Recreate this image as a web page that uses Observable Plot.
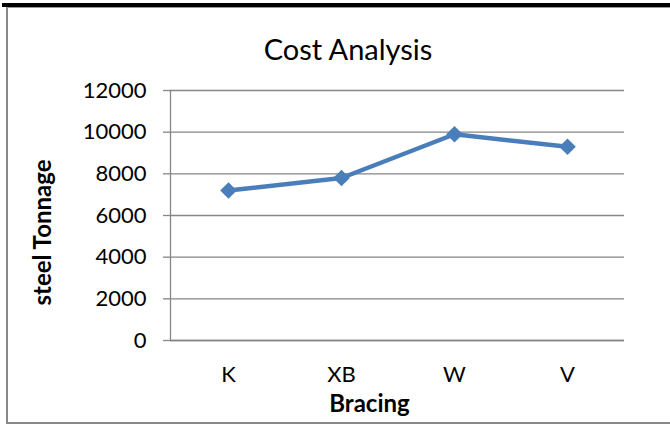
<!DOCTYPE html>
<html><head><meta charset="utf-8">
<script src="https://cdn.jsdelivr.net/npm/d3@7"></script>
<script src="https://cdn.jsdelivr.net/npm/@observablehq/plot@0.6"></script>
<style>
body{margin:0;background:#fff;}
#chart{position:relative;width:670px;height:425px;overflow:hidden;font-family:Lato,sans-serif;background:#fff;}
.topbar{position:absolute;left:2px;top:3px;width:668px;height:4px;background:#000;}
.frame{position:absolute;left:6px;top:7px;width:670px;height:414px;border-left:2px solid #888;border-bottom:2px solid #888;border-top:1px solid #999;}
.title{position:absolute;left:198px;width:300px;top:34px;text-align:center;font-size:29px;line-height:29px;color:#000;}
#chart svg{position:absolute;left:0;top:65px;}
</style></head><body>
<div id="chart">
 <div class="topbar"></div>
 <div class="frame"></div>
 <div class="title" id="title"></div>
</div>
<script>
const categories = ["K", "XB", "W", "V"];
const tonnage = [7200, 7800, 9900, 9300];
const yTicks = [0, 2000, 4000, 6000, 8000, 10000, 12000];
const chartTitle = "Cost Analysis";
const xLabel = "Bracing";
const yLabel = "steel Tonnage";

document.getElementById("title").textContent = chartTitle;
const data = categories.map((c, i) => ({bracing: c, tonnage: tonnage[i]}));
const gray = "#868686";
const blue = "#4a7ebb";

const plot = Plot.plot({
  width: 670, height: 360,
  marginTop: 25, marginBottom: 85, marginLeft: 170, marginRight: 46,
  style: {fontFamily: "Lato, sans-serif", fontSize: "22px", color: "#000", background: "transparent", overflow: "visible"},
  x: {type: "point", domain: categories, padding: 0.5},
  y: {domain: [0, 12000]},
  marks: [
    Plot.gridY({ticks: yTicks, stroke: gray, strokeOpacity: 1, strokeWidth: 1.3}),
    Plot.frame({anchor: "left", stroke: gray, strokeWidth: 1.3}),
    Plot.ruleY([0], {stroke: gray, strokeWidth: 1.3}),
    Plot.axisY({ticks: yTicks, tickSize: 7, tickPadding: 17, stroke: gray, strokeWidth: 1.3, fill: "#000", tickFormat: d3.format("d"), label: null}),
    Plot.axisX({tickSize: 0, tickPadding: 26, label: null, fill: "#000"}),
    Plot.line(data, {x: "bracing", y: "tonnage", stroke: blue, strokeWidth: 4.5}),
    Plot.dot(data, {x: "bracing", y: "tonnage", symbol: "diamond2", r: 7.5, fill: blue, stroke: "none"}),
    Plot.text([xLabel], {text: d => d, frameAnchor: "bottom", textAnchor: "middle", dx: -28, dy: 71, fontWeight: "bold", fontSize: 24, fill: "#000"}),
    Plot.text([yLabel], {text: d => d, frameAnchor: "left", textAnchor: "middle", rotate: -90, dx: -127, dy: 17, fontWeight: "bold", fontSize: 24, fill: "#000"})
  ]
});
document.getElementById("chart").appendChild(plot);
</script>
</body></html>
